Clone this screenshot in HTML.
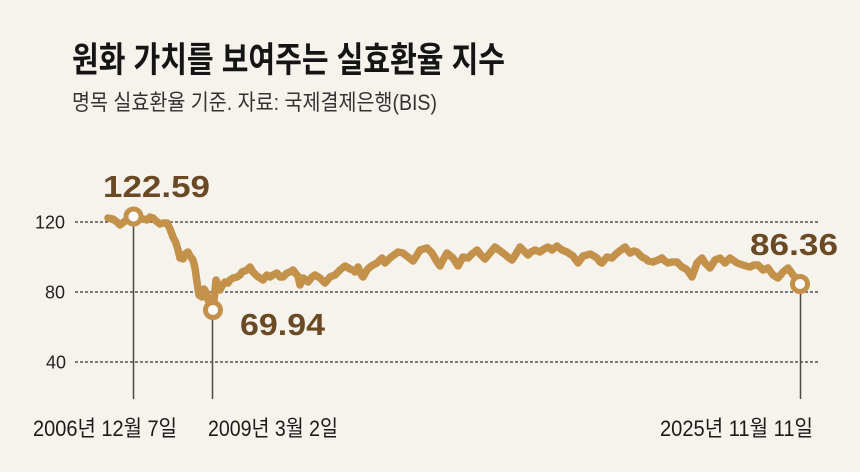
<!DOCTYPE html>
<html>
<head>
<meta charset="utf-8">
<style>
  html, body { margin:0; padding:0; background:#f6f3ed; }
  body { width:860px; height:472px; overflow:hidden; }
  svg { display:block; }
  .kr { font-family: "Liberation Sans", "Noto Sans CJK KR", sans-serif; }
</style>
</head>
<body>
<svg width="860" height="472" viewBox="0 0 860 472" xmlns="http://www.w3.org/2000/svg">
  <rect x="0" y="0" width="860" height="472" fill="#f6f3ed"/>

  <!-- Title -->
  <text class="kr" x="72" y="72" font-size="35" font-weight="700" fill="#151515" textLength="433" lengthAdjust="spacingAndGlyphs">원화 가치를 보여주는 실효환율 지수</text>
  <!-- Subtitle -->
  <text class="kr" x="72" y="110" font-size="22" fill="#333" textLength="365" lengthAdjust="spacingAndGlyphs">명목 실효환율 기준. 자료: 국제결제은행(BIS)</text>

  <!-- Grid lines -->
  <g stroke="#333" stroke-width="1.3" stroke-dasharray="3,2">
    <line x1="75" y1="222" x2="820" y2="222"/>
    <line x1="75" y1="292" x2="820" y2="292"/>
    <line x1="75" y1="362" x2="820" y2="362"/>
  </g>
  <!-- Y labels -->
  <g font-family="Liberation Sans, sans-serif" font-size="18" fill="#222" text-anchor="end">
    <text x="65" y="228.5">120</text>
    <text x="65" y="298.5">80</text>
    <text x="66" y="368.5">40</text>
  </g>

  <!-- Leader lines -->
  <g stroke="#4a4a4a" stroke-width="1.5">
    <line x1="133.5" y1="216" x2="133.5" y2="399"/>
    <line x1="212.5" y1="310" x2="212.5" y2="399"/>
    <line x1="800.5" y1="284" x2="800.5" y2="399"/>
  </g>

  <!-- Series -->
  <polyline fill="none" stroke="#c4914b" stroke-width="7.5" stroke-linejoin="round" stroke-linecap="round"
    points="108,218 113,219 117,222 120,225 125,221 129,218 133,216 138,217 143,219 147,220 150,217 153,218 156,221 160,224 163,223 167,223 170,229 173,237 176,243 178,250 180,258 183,259 185,254 188,252 190,256 193,260 195,268 197,282 199,295 202,297 204,289 206,292 208,300 210,304 213,310 215,290 216,280 218,285 220,290 222,286 225,282 228,283 230,280 233,278 237,277 240,275 242,272 247,270 250,267 253,272 257,276 260,278 263,280 267,275 270,277 273,275 277,273 280,277 283,277 287,273 290,272 293,270 296,274 298,276 300,285 303,278 306,280 308,282 312,277 315,275 320,278 325,283 330,277 335,275 340,270 345,266 347,267 350,269 353,270 355,272 358,267 362,276 363,277 367,270 370,267 373,265 377,263 380,260 382,258 385,263 390,258 394,255 398,252 403,253 408,257 413,261 417,255 420,250 427,248 432,253 436,260 440,266 443,260 447,253 453,258 458,266 463,257 468,258 472,254 477,250 481,255 485,259 490,253 495,247 499,250 503,253 508,257 512,260 516,254 520,247 524,251 528,255 531,252 535,250 540,252 544,249 548,247 552,250 557,246 562,250 567,252 570,254 573,256 578,263 583,256 587,255 590,254 594,256 597,258 600,262 602,263 607,257 612,258 617,253 621,250 625,247 630,253 634,251 637,252 642,257 646,259 648,261 653,262 658,260 662,258 665,261 668,263 672,262 677,262 682,267 686,269 688,271 692,277 697,263 702,258 705,263 710,268 715,260 720,258 725,263 730,258 737,263 743,265 746,266 750,267 754,265 758,265 763,270 768,268 773,275 778,278 783,272 788,268 791,272 793,275 796,278 800,284"/>

  <!-- Markers -->
  <g fill="#ffffff" stroke="#c4914b" stroke-width="5">
    <circle cx="133.5" cy="216.5" r="7.5"/>
    <circle cx="213" cy="310" r="7.5"/>
    <circle cx="800" cy="284" r="7.5"/>
  </g>

  <!-- Value labels -->
  <g font-family="Liberation Sans, sans-serif" font-size="31" font-weight="700" fill="#6a4a25">
    <text x="103" y="197" textLength="107" lengthAdjust="spacingAndGlyphs">122.59</text>
    <text x="240" y="335" textLength="85" lengthAdjust="spacingAndGlyphs">69.94</text>
    <text x="750" y="255" textLength="88" lengthAdjust="spacingAndGlyphs">86.36</text>
  </g>

  <!-- Date labels -->
  <g class="kr" font-size="22" fill="#1a1a1a">
    <text x="33" y="436" textLength="144" lengthAdjust="spacingAndGlyphs">2006년 12월 7일</text>
    <text x="208" y="436" textLength="130" lengthAdjust="spacingAndGlyphs">2009년 3월 2일</text>
    <text x="660" y="436" textLength="153" lengthAdjust="spacingAndGlyphs">2025년 11월 11일</text>
  </g>
</svg>
</body>
</html>
